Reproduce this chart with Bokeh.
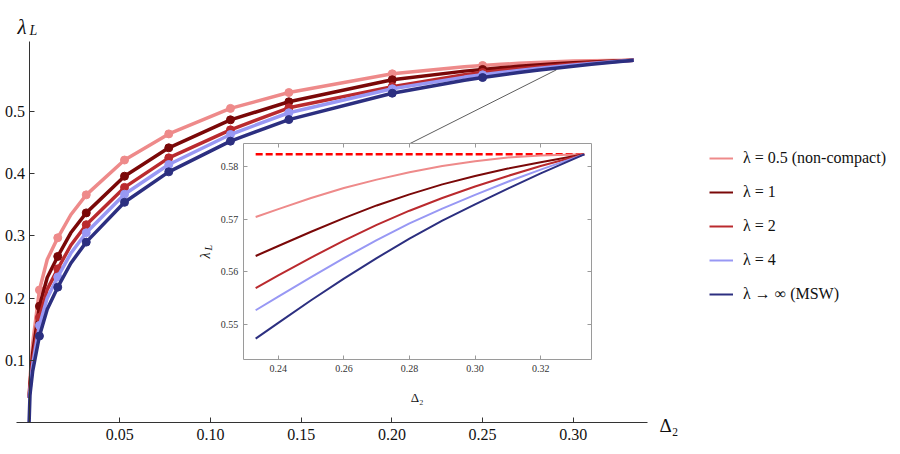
import math
from bokeh.plotting import figure
from bokeh.models import (Range1d, LinearAxis, FixedTicker, Label, Legend, LegendItem,
                          PrintfTickFormatter, CustomJSTickFormatter)
from bokeh.embed import file_html
from bokeh.resources import INLINE

# ---------------- data ----------------
# main panel: low-Delta part of each curve
D_LOW = [0.0, 0.0005, 0.002, 0.0057, 0.01, 0.0158, 0.023, 0.0315, 0.0526, 0.077,
         0.111, 0.1432, 0.2002]
LOW_05 = [0.04, 0.07, 0.128, 0.213, 0.262, 0.297, 0.334, 0.366, 0.422, 0.464,
          0.505, 0.5305, 0.5606]
LOW_1 = [0.04, 0.062, 0.112, 0.187, 0.233, 0.267, 0.305, 0.337, 0.396, 0.4416,
         0.4866, 0.5156, 0.551]
LOW_2 = [0.04, 0.056, 0.101, 0.169, 0.214, 0.247, 0.285, 0.318, 0.378, 0.4255,
         0.4705, 0.506, 0.540]
LOW_4 = [0.04, 0.052, 0.093, 0.156, 0.200, 0.234, 0.272, 0.305, 0.367, 0.4148,
         0.463, 0.498, 0.5365]
LOW_INF = [0.0, 0.045, 0.083, 0.139, 0.182, 0.2176, 0.256, 0.290, 0.354, 0.403,
           0.4523, 0.487, 0.5294]

# high-Delta part (also shown magnified in the inset)
D_HIGH = [0.2331, 0.24, 0.25, 0.26, 0.27, 0.28, 0.29, 0.30, 0.31, 0.32, 0.3333]
HIGH_05 = [0.5704, 0.5719, 0.5740, 0.5759, 0.5775, 0.5789, 0.5801, 0.5810, 0.5817, 0.5821, 0.5823]
HIGH_1 = [0.5630, 0.5649, 0.5676, 0.5702, 0.5726, 0.5747, 0.5766, 0.5782, 0.5796, 0.5808, 0.5823]
HIGH_2 = [0.5569, 0.5593, 0.5627, 0.5659, 0.5689, 0.5716, 0.5740, 0.5762, 0.5782, 0.5801, 0.5823]
HIGH_4 = [0.5527, 0.5553, 0.5590, 0.5626, 0.5660, 0.5692, 0.5720, 0.5746, 0.5771, 0.5794, 0.5823]
HIGH_INF = [0.5473, 0.5503, 0.5546, 0.5587, 0.5626, 0.5663, 0.5697, 0.5728, 0.5758, 0.5787, 0.5823]
LAMBDA_MAX = 0.5823

# sampled points (markers) on the main panel
D_MARK = [0.0057, 0.0158, 0.0315, 0.0526, 0.077, 0.111, 0.1432, 0.2002, 0.25]
MARK_05 = [0.213, 0.297, 0.366, 0.422, 0.464, 0.505, 0.5305, 0.5606, 0.5740]
MARK_1 = [0.187, 0.267, 0.337, 0.396, 0.4416, 0.4866, 0.5156, 0.551, 0.5676]
MARK_2 = [0.169, 0.247, 0.318, 0.378, 0.4255, 0.4705, 0.506, 0.540, 0.5627]
MARK_4 = [0.156, 0.234, 0.305, 0.367, 0.4148, 0.463, 0.498, 0.5365, 0.5590]
MARK_INF = [0.139, 0.2176, 0.290, 0.354, 0.403, 0.4523, 0.487, 0.5294, 0.5546]

LABELS = ["λ = 0.5 (non-compact)", "λ = 1", "λ = 2", "λ = 4", "λ → ∞ (MSW)"]
COLORS = ["#EE8A8A", "#7A0808", "#BA2A2E", "#9898F4", "#2C2F80"]

X_TICKS = [0.05, 0.10, 0.15, 0.20, 0.25, 0.30]
Y_TICKS = [0.1, 0.2, 0.3, 0.4, 0.5]
INSET_X_TICKS = [0.24, 0.26, 0.28, 0.30, 0.32]
INSET_Y_TICKS = [0.55, 0.56, 0.57, 0.58]

CONNECT_MAIN = (0.2907, 0.567)   # point on main curves
CONNECT_INSET_D = 0.28           # where it meets the inset top

# ---------------- geometry (pixels) ----------------
W, H = 900, 454
X0_PX, PX_PER_D = 28.6, 1814.0
Y0_PX, PX_PER_L = 422.0, 622.0
x_range = Range1d(-X0_PX / PX_PER_D, (W - X0_PX) / PX_PER_D)
y_range = Range1d((Y0_PX - H) / PX_PER_L, Y0_PX / PX_PER_L)

IN_L, IN_R, IN_T, IN_B = 242.7, 591.0, 143.3, 359.0
IX_LIM = (0.2293, 0.3355)
IY_LIM = (0.54335, 0.5843)
sx = (IN_R - IN_L) / (IX_LIM[1] - IX_LIM[0])
sy = (IN_B - IN_T) / (IY_LIM[1] - IY_LIM[0])
ix_start = IX_LIM[0] - IN_L / sx
iy_end = IY_LIM[1] + IN_T / sy

FONT = "Liberation Serif"

p = figure(width=W, height=H, x_range=x_range, y_range=y_range,
           output_backend="svg", toolbar_location=None,
           x_axis_location=None, y_axis_location=None,
           min_border=0, min_border_left=0, min_border_right=0,
           min_border_top=0, min_border_bottom=0, outline_line_color=None)
p.grid.visible = False
p.background_fill_color = "white"
p.border_fill_color = "white"
p.extra_x_ranges = {"ix": Range1d(ix_start, ix_start + W / sx)}
p.extra_y_ranges = {"iy": Range1d(iy_end - H / sy, iy_end)}

# ---------------- main axes ----------------
axis_style = dict(major_tick_in=5, major_tick_out=0, minor_tick_line_color=None,
                  axis_line_color="#333333", major_tick_line_color="#333333",
                  major_label_text_font=FONT, major_label_text_font_size="16px",
                  major_label_text_color="#111111")
xa = LinearAxis(fixed_location=0, bounds=(-0.0069, 0.3407),
                ticker=FixedTicker(ticks=X_TICKS),
                formatter=PrintfTickFormatter(format="%.2f"),
                major_label_standoff=6, **axis_style)
ya = LinearAxis(fixed_location=0, bounds=(0, 0.6125),
                ticker=FixedTicker(ticks=Y_TICKS),
                formatter=PrintfTickFormatter(format="%.1f"),
                major_label_standoff=4, **axis_style)
p.add_layout(xa, "below")
p.add_layout(ya, "left")

# ---------------- inset axes (frame) ----------------
in_style = dict(x_range_name="ix", y_range_name="iy", major_tick_in=4, major_tick_out=0,
                minor_tick_line_color=None, axis_line_color="#9a9a9a",
                major_tick_line_color="#9a9a9a", major_label_text_font=FONT,
                major_label_text_font_size="10px", major_label_text_color="#333333")
blank = CustomJSTickFormatter(code="return ''")
ib = LinearAxis(fixed_location=IY_LIM[0], bounds=IX_LIM, ticker=FixedTicker(ticks=INSET_X_TICKS),
                formatter=PrintfTickFormatter(format="%.2f"), major_label_standoff=5, **in_style)
it = LinearAxis(fixed_location=IY_LIM[1], bounds=IX_LIM, ticker=FixedTicker(ticks=INSET_X_TICKS),
                formatter=blank, major_label_standoff=0, **in_style)
il = LinearAxis(fixed_location=IX_LIM[0], bounds=IY_LIM, ticker=FixedTicker(ticks=INSET_Y_TICKS),
                formatter=PrintfTickFormatter(format="%.2f"), major_label_standoff=5, **in_style)
ir = LinearAxis(fixed_location=IX_LIM[1], bounds=IY_LIM, ticker=FixedTicker(ticks=INSET_Y_TICKS),
                formatter=blank, major_label_standoff=0, **in_style)
p.add_layout(ib, "below")
p.add_layout(it, "above")
p.add_layout(il, "left")
p.add_layout(ir, "right")

# ---------------- connector ----------------
def inset_to_main(d, l):
    px = IN_L + (d - IX_LIM[0]) * sx
    py = IN_T + (IY_LIM[1] - l) * sy
    return (px - X0_PX) / PX_PER_D, (Y0_PX - py) / PX_PER_L

cx, cy = inset_to_main(CONNECT_INSET_D, IY_LIM[1])
p.line([CONNECT_MAIN[0], cx], [CONNECT_MAIN[1], cy], line_color="#333333", line_width=0.8)

# ---------------- curves ----------------
lows = [LOW_05, LOW_1, LOW_2, LOW_4, LOW_INF]
highs = [HIGH_05, HIGH_1, HIGH_2, HIGH_4, HIGH_INF]
marks = [MARK_05, MARK_1, MARK_2, MARK_4, MARK_INF]

for lo, hi, m, col in zip(lows, highs, marks, COLORS):
    p.line(D_LOW + D_HIGH[1:], lo + hi[1:], line_color=col, line_width=3.5)
    p.scatter(D_MARK, m, size=8, fill_color=col, line_color=col)

p.line([D_HIGH[0], D_HIGH[-1]], [LAMBDA_MAX, LAMBDA_MAX], x_range_name="ix", y_range_name="iy",
       line_color="#FF0000", line_width=2.5, line_dash="7 3")

inset_renderers = []
for hi, col in zip(highs, COLORS):
    r = p.line(D_HIGH, hi, x_range_name="ix", y_range_name="iy", line_color=col, line_width=2)
    inset_renderers.append(r)

# ---------------- legend ----------------
legend = Legend(items=[LegendItem(label=lab, renderers=[r]) for lab, r in zip(LABELS, inset_renderers)],
                location=(709, 150), orientation="vertical",
                glyph_width=24, glyph_height=20, label_height=20, spacing=14,
                padding=0, margin=0, label_standoff=10,
                label_text_font=FONT, label_text_font_size="16px", label_text_color="#111111",
                border_line_alpha=0, background_fill_alpha=0)
p.add_layout(legend)

# ---------------- axis titles ----------------
def lab(text, x, y, size, style="normal", align="left", baseline="alphabetic", angle=0.0):
    p.add_layout(Label(x=x, y=H - y, x_units="screen", y_units="screen", text=text,
                       text_font=FONT, text_font_size=size, text_font_style=style,
                       text_align=align, text_baseline=baseline, angle=angle,
                       text_color="#111111"))

lab("λ", 17, 26, "21px", "italic")
lab("L", 29, 30, "14px", "italic")
lab("Δ₂", 659, 425, "19px")
lab("Δ₂", 416.7, 397, "13px", align="center")
lab("λ", 205, 258, "14px", "italic", angle=math.pi / 2)
lab("L", 208, 250, "10px", "italic", angle=math.pi / 2)

open("out.html", "w").write(file_html(p, INLINE))
